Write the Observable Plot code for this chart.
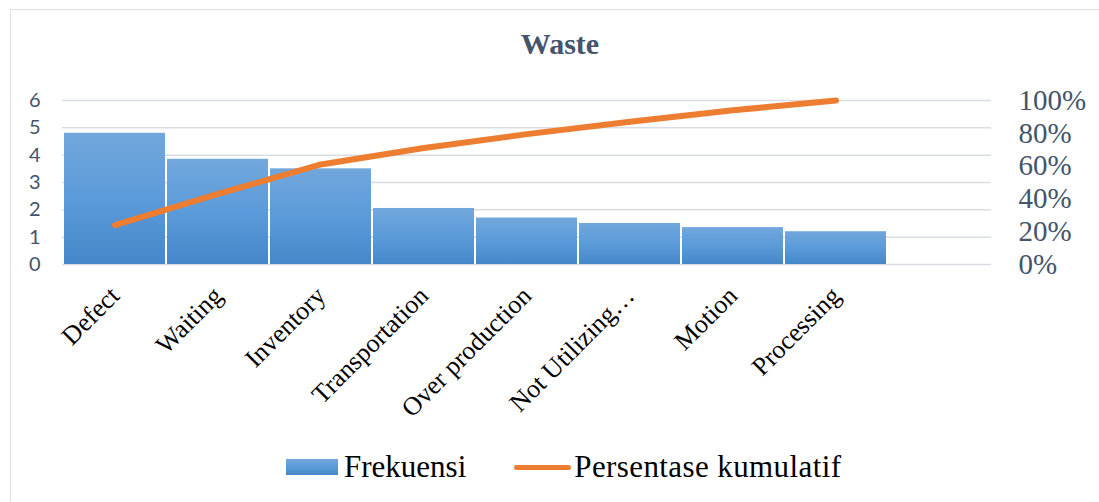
<!DOCTYPE html>
<html>
<head>
<meta charset="utf-8">
<script src="https://cdn.jsdelivr.net/npm/d3@7"></script>
<script src="https://cdn.jsdelivr.net/npm/@observablehq/plot@0.6"></script>
<style>
  html, body { margin:0; padding:0; background:#fff; }
  body { width:1099px; height:502px; overflow:hidden; position:relative; }
  #frame { position:absolute; left:10px; top:9px; width:1200px; height:600px; border:1.5px solid #dcdfe4; box-sizing:border-box; }
  #title { position:absolute; left:0; width:1120px; top:27px; text-align:center; font-family:"Liberation Serif", serif; font-weight:bold; font-size:30px; color:#44546a; }
  #chart { position:absolute; left:0; top:0; }
  #legend { position:absolute; left:286px; top:449px; display:flex; align-items:center; font-family:"Liberation Serif", serif; font-size:31px; color:#000; white-space:nowrap; }
  .sw { width:52px; height:16px; background:linear-gradient(#72a7dc, #5b9bd9 50%, #4587c9); margin-right:6px; }
  .ln { width:57px; height:5px; border-radius:3px; background:#ed7d31; margin-left:48px; margin-right:3px; }
  .p2 { letter-spacing:0.4px; }
  .ax-left text { font-family: Lato, sans-serif; }
  .ax-right text { font-family: "Liberation Serif", "Times New Roman", serif; }
  .ax-x text { font-family: "Liberation Serif", "Times New Roman", serif; }
</style>
</head>
<body>
<div id="frame"></div>
<div id="title">Waste</div>
<div id="chart"></div>
<div id="legend"><div class="sw"></div><span>Frekuensi</span><div class="ln"></div><span class="p2">Persentase kumulatif</span></div>
<script>
const categories = ["Defect", "Waiting", "Inventory", "Transportation", "Over production", "Not Utilizing…", "Motion", "Processing"];
const frekuensi = [4.8, 3.85, 3.5, 2.05, 1.7, 1.5, 1.35, 1.2];
const kumulatif = [24, 43, 61, 71, 79.5, 87, 94, 100];
const freqTicks = [0, 1, 2, 3, 4, 5, 6];
const pctTicks = [0, 20, 40, 60, 80, 100];

const data = categories.map((c, i) => ({cat: c, freq: frekuensi[i], cum: kumulatif[i]}));
const pctToY = p => p * 6 / 100;

function gradientDefs() {
  const ns = "http://www.w3.org/2000/svg";
  const defs = document.createElementNS(ns, "defs");
  const g = document.createElementNS(ns, "linearGradient");
  g.setAttribute("id", "barGrad");
  g.setAttribute("x1", "0"); g.setAttribute("y1", "0");
  g.setAttribute("x2", "0"); g.setAttribute("y2", "1");
  [["0%", "#72a7dc"], ["50%", "#5b9bd9"], ["100%", "#4587c9"]].forEach(([o, c]) => {
    const s = document.createElementNS(ns, "stop");
    s.setAttribute("offset", o); s.setAttribute("stop-color", c);
    g.appendChild(s);
  });
  defs.appendChild(g);
  return defs;
}

const chart = Plot.plot({
  width: 1099,
  height: 440,
  marginTop: 100,
  marginBottom: 176,
  marginLeft: 62,
  marginRight: 108,
  style: {background: "transparent", overflow: "visible"},
  x: {domain: [...categories, ""], paddingInner: 0.02, paddingOuter: 0.005, axis: null, label: null},
  y: {domain: [0, 6], axis: null, label: null},
  marks: [
    gradientDefs,
    Plot.gridY(freqTicks, {stroke: "#d9dde3", strokeOpacity: 1, strokeWidth: 1.5}),
    Plot.barY(data, {x: "cat", y: "freq", fill: "url(#barGrad)"}),
    Plot.line(data, {x: "cat", y: d => pctToY(d.cum), stroke: "#ed7d31", strokeWidth: 6, strokeLinecap: "round", strokeLinejoin: "round"}),
    Plot.axisY({anchor: "left", ticks: freqTicks, tickFormat: d3.format("d"), tickSize: 0, tickPadding: 22, fontSize: 20, label: null, color: "#44546a", className: "ax-left"}),
    Plot.axisY({anchor: "right", ticks: pctTicks.map(pctToY), tickFormat: d => Math.round(d * 100 / 6) + "%", tickSize: 0, tickPadding: 27, fontSize: 29, label: null, color: "#44546a", className: "ax-right"}),
    Plot.axisX({ticks: categories, tickSize: 0, tickPadding: 27, tickRotate: -45, fontSize: 26, label: null, color: "#000", className: "ax-x"})
  ]
});
document.getElementById("chart").appendChild(chart);
</script>
</body>
</html>
